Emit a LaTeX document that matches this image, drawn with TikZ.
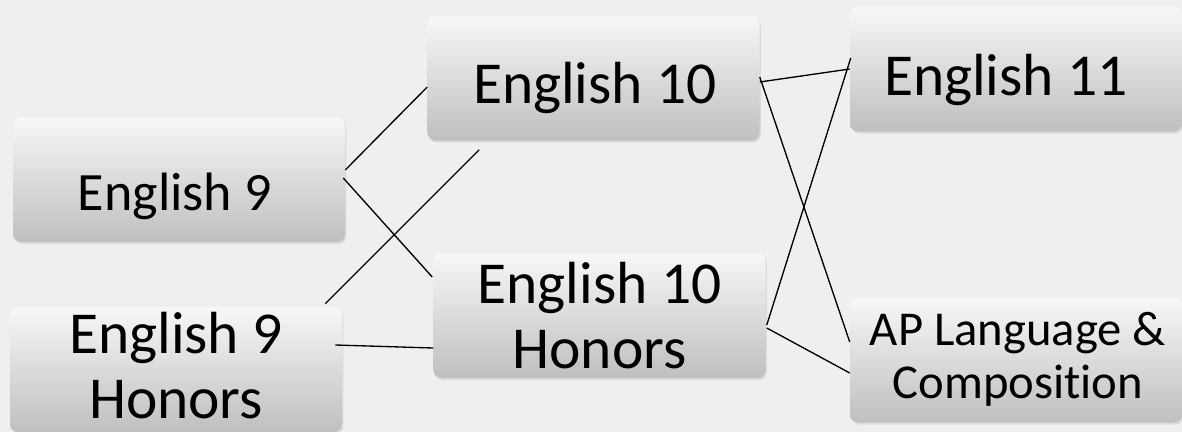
\documentclass[tikz,border=0pt]{standalone}
\usepackage{fontspec}
\setmainfont{Carlito}[Ligatures=NoCommon]
\usepackage{xcolor}
\usepackage{tikz}
\usetikzlibrary{positioning}
\usetikzlibrary{calc}
\usetikzlibrary{shadows}

\definecolor{bggray}{RGB}{239,239,239}

\tikzset{
  course/.style={draw=none, rounded corners=6pt, top color=black!3, bottom color=black!25,
    minimum width=249pt, minimum height=93.75pt, inner sep=0pt,
    drop shadow={shadow xshift=1pt, shadow yshift=-1.5pt, opacity=0.18}},
  coursetext/.style={inner sep=0.75pt, align=center, text=black,
    font=\fontsize{44.6}{48.75}\selectfont},
  link/.style={line width=1pt, draw=black}
}

\begin{document}
\begin{tikzpicture}[x=0.75pt,y=0.75pt,yscale=-1,xscale=1]
\useasboundingbox (0,0) rectangle (1182,432); %page is 1182 by 432
\fill [bggray] (0,0) rectangle (1182,432);

%Shape: Rounded Rect
\node [course] (e9) at (179,179.5) {};
%Shape: Rounded Rect
\node [course] (e9h) at (176,369.5) {};
%Shape: Rounded Rect
\node [course] (e10) at (593.5,78) {};
%Shape: Rounded Rect
\node [course] (e10h) at (599.5,315.5) {};
%Shape: Rounded Rect
\node [course] (e11) at (1016,69) {};
%Shape: Rounded Rect
\node [course] (ap) at (1016,360) {};

%Straight Lines
\draw [link] ($(e9.east)+(0,-9.5)$) -- ($(e10.west)+(0,9)$);
%Straight Lines
\draw [link] ($(e9.east)+(-2,-1.5)$) -- ($(e10h.west)+(-1,-38.5)$);
%Straight Lines
\draw [link] ($(e9h.north east)+(-17,-3)$) -- ($(e10.south west)+(52,9)$);
%Straight Lines
\draw [link] ($(e9h.east)+(-7,-24.5)$) -- ($(e10h.west)+(0,32.5)$);
%Straight Lines
\draw [link] ($(e10.east)+(0,4)$) -- (e11.west);
%Straight Lines
\draw [link] ($(e10.east)+(0,-1)$) -- ($(ap.west)+(0,-18)$);
%Straight Lines
\draw [link] ($(e10h.east)+(1,9.5)$) -- ($(e11.west)+(1,-11)$);
%Straight Lines
\draw [link] ($(e10h.east)+(1,12.5)$) -- ($(ap.west)+(0,13)$);

% Text Node
\node [coursetext, anchor=base, font=\fontsize{40.5}{46}\selectfont] (t9) at ($(e9.center)+(-4,30.5)$) {English 9};
% Text Node
\node [coursetext] (t9h) at ($(e9h.center)+(0,-4)$) {English 9\\Honors};
% Text Node
\node [coursetext, anchor=base] (t10) at ($(e10.center)+(1.5,25)$) {English 10};
% Text Node
\node [coursetext] (t10h) at (e10h.center) {English 10\\Honors};
% Text Node
\node [coursetext, anchor=base] (t11) at ($(e11.center)+(-10,26)$) {English 11};
% Text Node
\node [coursetext, font=\fontsize{36.5}{40}\selectfont] (tap) at ($(ap.center)+(2,-1)$) {AP Language \&\\Composition};

\end{tikzpicture}
\end{document}
